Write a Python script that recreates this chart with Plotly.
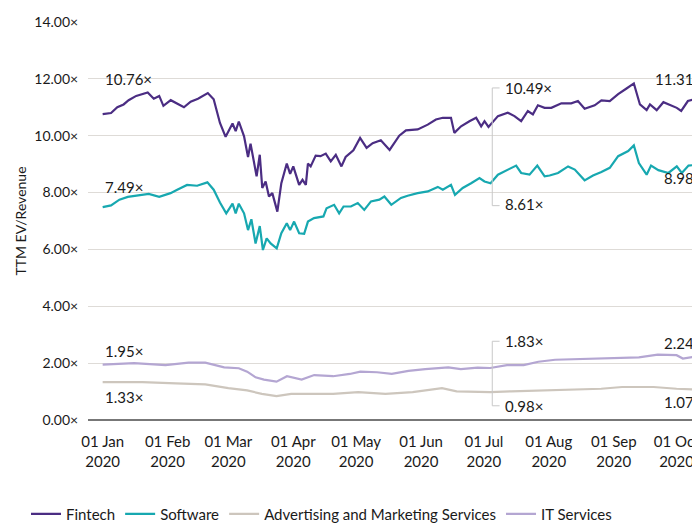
import pandas as pd
import plotly.graph_objects as go

START = pd.Timestamp("2020-01-01")

fintech_days = [0,4,7,10,12.4,16,21.5,24.4,27,29,32.5,38.8,42,45.5,50.2,53,56,58.7,62,63.5,65,67.5,69.4,70.6,73.5,75,76.2,77.8,79.4,81,83.4,85.3,87.9,89.5,91,93.8,95.4,97,98,99.3,101.7,104,106.5,108.9,111.3,114,116,119.7,122.9,126,128.9,132.8,137,141.6,144.8,150.4,155.2,159.1,162.4,166.3,167.9,171.1,175.1,178.3,180.7,182.3,184.2,188.7,193.4,196.6,199.8,203,205.4,207.8,211,214.2,219,223.7,226.9,230.1,234.9,238.1,242.1,246.1,250.1,253.6,256.5,259.7,261.3,264.5,267.7,271.7,274.1,276.2,279.4,282.1,284.2]
fintech_vals = [10.76,10.8,11.0,11.1,11.25,11.4,11.52,11.3,11.4,11.05,11.25,11.0,11.2,11.3,11.5,11.28,10.45,9.96,10.43,10.16,10.5,9.98,9.25,9.72,8.57,9.33,8.16,8.39,7.86,7.98,7.33,8.33,9.02,8.66,8.92,8.27,8.45,8.27,9.02,8.92,9.30,9.28,9.37,9.10,9.33,8.92,9.25,9.49,9.92,9.57,9.74,9.84,9.50,10.0,10.19,10.22,10.39,10.57,10.63,10.63,10.10,10.33,10.51,10.63,10.33,10.51,10.31,10.69,10.81,10.69,10.51,10.87,10.75,11.07,10.98,10.98,11.14,11.14,11.22,10.95,11.07,11.24,11.22,11.46,11.66,11.84,11.10,10.90,11.10,10.90,11.18,11.07,10.98,10.87,11.22,11.28,11.31]

software_days = [0,4,8,12,17,22,27,32.4,35.6,40.3,45.1,50,53,56,59,62,63.5,65,67.5,69.4,71,73,75,76.5,78.3,80.2,83.1,85.3,87.9,89.5,91.4,93.8,96.2,98,100.9,105.4,106.9,110.5,112.9,115,118.5,121.8,124.9,128.1,132.1,134.5,137.8,142.4,145.6,150.4,155.2,160,162.4,166.3,168.2,171.9,175.9,179.9,182.3,185.2,188.7,193.4,197.4,199.8,203.8,207.5,211,213.4,217.4,222.2,225.4,230.1,234.1,238.1,242.1,246.1,250.9,253.6,256,259.7,261.8,265.3,270.1,274.1,276.5,279.7,284.2]
software_vals = [7.49,7.55,7.75,7.85,7.9,7.95,7.85,7.98,8.10,8.27,8.24,8.36,8.10,7.65,7.27,7.61,7.27,7.61,7.27,6.68,7.06,6.21,6.82,5.98,6.39,6.21,6.04,6.57,6.92,6.68,6.98,6.57,6.55,6.98,7.10,7.16,7.45,7.57,7.27,7.51,7.51,7.63,7.39,7.69,7.75,7.86,7.57,7.81,7.89,7.98,8.04,8.20,8.10,8.27,7.92,8.16,8.33,8.51,8.39,8.33,8.63,8.81,8.95,8.69,8.63,8.95,8.57,8.60,8.69,8.92,8.81,8.43,8.60,8.72,8.87,9.28,9.46,9.66,9.04,8.63,8.95,8.79,8.69,8.92,8.69,8.95,8.98]

adv_days = [0,19,35,49,60,69,76,83,90,98,110,122,135,148,162,169,185,195,216,238,248,263,274,284]
adv_vals = [1.33,1.33,1.29,1.25,1.12,1.04,0.92,0.84,0.92,0.92,0.92,0.98,0.92,0.98,1.12,1.01,0.98,1.01,1.06,1.10,1.16,1.16,1.10,1.07]

it_days = [0,15,30,41,49,58,65,69,73,77,83,88,95,101,110,118,123,131,138,146,154,165,171,179,185,193,201,208,216,227,238,248,256,265,274,277,284]
it_vals = [1.95,2.0,1.93,2.02,2.02,1.85,1.82,1.70,1.50,1.42,1.35,1.54,1.42,1.58,1.54,1.62,1.70,1.68,1.62,1.73,1.79,1.85,1.79,1.84,1.83,1.93,1.93,2.05,2.12,2.14,2.17,2.20,2.20,2.30,2.28,2.16,2.24]

series_names = ["Fintech", "Software", "Advertising and Marketing Services", "IT Services"]
colors = ["#4b2d83", "#17a8b0", "#cdc6bd", "#b4a6d2"]
y_ticks = [0, 2, 4, 6, 8, 10, 12, 14]

def d(x):
    return START + pd.to_timedelta(x, unit="D")

fig = go.Figure()
for name, days, vals, c in zip(series_names,
                               [fintech_days, software_days, adv_days, it_days],
                               [fintech_vals, software_vals, adv_vals, it_vals], colors):
    fig.add_trace(go.Scatter(x=[d(v) for v in days], y=vals, mode="lines", name=name,
                             line=dict(color=c, width=2.2)))

FONT = "Lato"
TXT = "#1a1a1a"
ann = []
def label(day, y, text, anchor, paper_right=False):
    a = dict(y=y, text=text, showarrow=False, xanchor=anchor, yanchor="middle",
             font=dict(size=15, color=TXT, family=FONT))
    if paper_right:
        a.update(x=0.993, xref="paper")
    else:
        a.update(x=d(day))
    ann.append(a)

label(0, 12.0, "10.76×", "left")
label(0, 8.2, "7.49×", "left")
label(0, 2.44, "1.95×", "left")
label(0, 0.8, "1.33×", "left")
label(0, 12.0, "11.31×", "right", True)
label(0, 8.5, "8.98×", "right", True)
label(0, 2.72, "2.24×", "right", True)
label(0, 0.62, "1.07×", "right", True)
label(191, 11.68, "10.49×", "left")
label(191, 7.6, "8.61×", "left")
label(191, 2.79, "1.83×", "left")
label(191, 0.5, "0.98×", "left")

shapes = []
for y0, y1 in [(11.68, 7.54), (2.77, 0.5)]:
    shapes.append(dict(type="line", x0=d(186), x1=d(186), y0=y0, y1=y1,
                       line=dict(color="#c8c8c8", width=1)))
    for yy in (y0, y1):
        shapes.append(dict(type="line", x0=d(186), x1=d(189.5), y0=yy, y1=yy,
                           line=dict(color="#c8c8c8", width=1)))

fig.update_layout(
    width=700, height=527,
    margin=dict(l=80, r=0, t=14, b=115),
    paper_bgcolor="white", plot_bgcolor="white",
    font=dict(family=FONT, size=14, color=TXT),
    annotations=ann, shapes=shapes,
    legend=dict(orientation="h", x=-0.1, y=-0.195, xanchor="left", yanchor="top",
                font=dict(size=15, family=FONT, color=TXT)),
    xaxis=dict(type="date", range=[d(-7), d(289)], tickformat="%d %b<br>%Y",
               dtick="M1", tick0="2020-01-01", showgrid=False, ticks="outside",
               ticklen=8, tickcolor="rgba(0,0,0,0)", automargin=False,
               tickfont=dict(size=15)),
    yaxis=dict(range=[0, 14], tickvals=y_ticks, automargin=False,
               ticktext=[f"{v:.2f}×" for v in y_ticks], showgrid=True,
               gridcolor="#dedbd7", zeroline=True, zerolinecolor="#777",
               zerolinewidth=1.5, ticks="outside", ticklen=6, tickcolor="rgba(0,0,0,0)",
               title=dict(text="TTM EV/Revenue", font=dict(size=14), standoff=4),
               tickfont=dict(size=14)),
)
fig.write_html("out.html")
